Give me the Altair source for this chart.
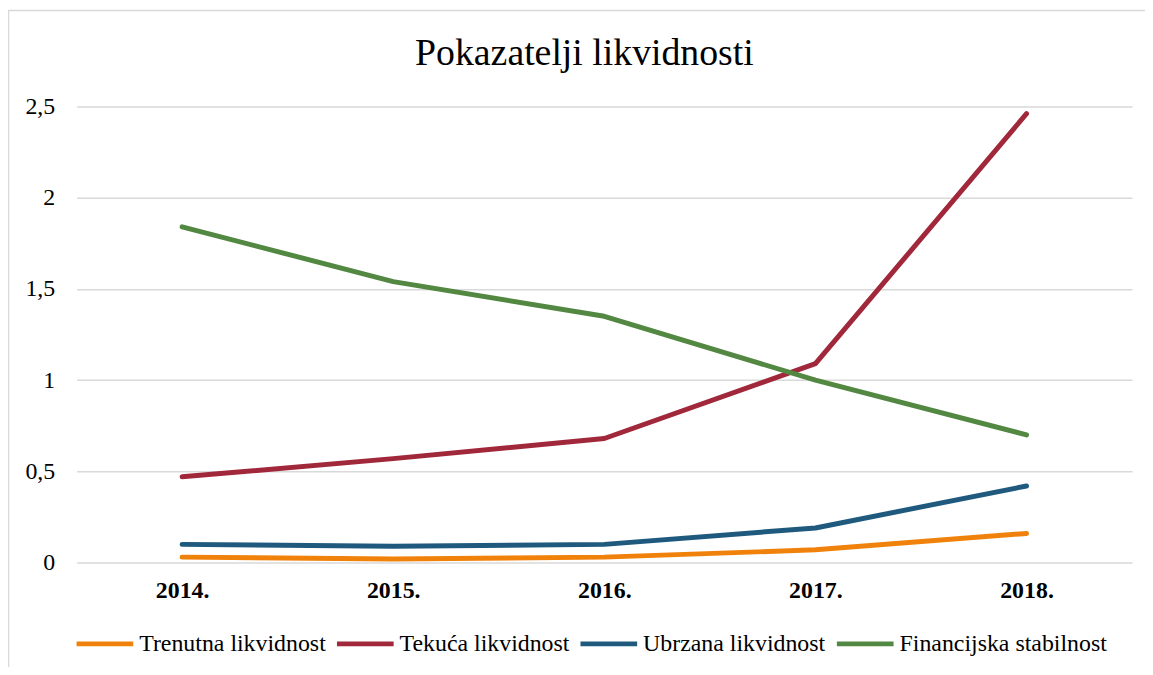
import altair as alt
import pandas as pd

years = ["2014.", "2015.", "2016.", "2017.", "2018."]
series_names = ["Trenutna likvidnost", "Tekuća likvidnost", "Ubrzana likvidnost", "Financijska stabilnost"]
trenutna = [0.03, 0.02, 0.03, 0.07, 0.16]
tekuca = [0.47, 0.57, 0.68, 1.09, 2.46]
ubrzana = [0.10, 0.09, 0.10, 0.19, 0.42]
financijska = [1.84, 1.54, 1.35, 1.00, 0.70]
colors = ["#F0820C", "#A0283A", "#1F5A7E", "#528841"]
title_text = "Pokazatelji likvidnosti"

rows = []
for name, vals in zip(series_names, [trenutna, tekuca, ubrzana, financijska]):
    for y, v in zip(years, vals):
        rows.append({"Godina": y, "Serija": name, "Vrijednost": v})
df = pd.DataFrame(rows)

FONT = "Liberation Serif"

lines = alt.Chart(df).mark_line(strokeWidth=5, strokeCap="round", strokeJoin="round").encode(
    x=alt.X("Godina:O", sort=years, title=None,
            axis=alt.Axis(labelAngle=0, labelFont=FONT, labelFontSize=24, labelFontWeight="bold",
                          labelColor="#000000", labelPadding=16, ticks=False, domain=False, grid=False)),
    y=alt.Y("Vrijednost:Q", title=None,
            scale=alt.Scale(domain=[0, 2.5], nice=False),
            axis=alt.Axis(values=[0, 0.5, 1, 1.5, 2, 2.5], labelExpr="replace(format(datum.value, '~g'), '.', ',')",
                          labelFont=FONT, labelFontSize=24, labelColor="#000000", labelPadding=22,
                          ticks=False, domain=False, gridColor="#d9d9d9", gridWidth=1.5)),
    color=alt.Color("Serija:N", scale=alt.Scale(domain=series_names, range=colors),
                    legend=alt.Legend(title=None, orient="none", legendX=-3, legendY=509, direction="horizontal",
                                      symbolType="stroke", symbolSize=3250, symbolStrokeWidth=5,
                                      labelFont=FONT, labelFontSize=24, labelColor="#000000",
                                      labelOffset=3, columnPadding=0, padding=0, labelLimit=400)),
)

border = alt.Chart(pd.DataFrame({"a": [0]})).mark_rect(fill=None, stroke="#d9d9d9", strokeWidth=1.5, clip=False).encode(
    x=alt.value(-68.5), x2=alt.value(1085), y=alt.value(-96.5), y2=alt.value(620)
)

title = alt.Chart(pd.DataFrame({"t": [title_text]})).mark_text(
    font=FONT, fontSize=38, color="#000000", align="center", baseline="alphabetic", clip=False
).encode(text="t:N", x=alt.value(511), y=alt.value(-42))

chart = alt.layer(border, lines, title).properties(
    width=1062, height=459,
    autosize=alt.AutoSizeParams(type="none"),
    padding={"left": 69, "top": 97, "right": 13, "bottom": 103},
).configure_view(stroke=None)

chart.save("out.html", embed_options={"renderer": "svg", "actions": False})
